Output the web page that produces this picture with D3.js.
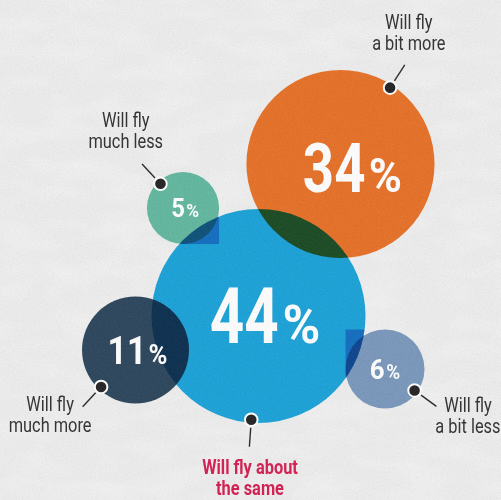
<!DOCTYPE html>
<html>
<head>
<meta charset="utf-8">
<script src="https://cdn.jsdelivr.net/npm/d3@7"></script>
<style>
  html, body { margin: 0; padding: 0; background: #f4f4f4; }
  svg { display: block; }
  text { font-family: Roboto, "Noto Sans", sans-serif; }
</style>
</head>
<body>
<div id="chart"></div>
<script>
// Survey answers: how much people expect to fly
const categories = ["Will fly much more", "Will fly a bit more", "Will fly about the same", "Will fly a bit less", "Will fly much less"];
const values = [11, 34, 44, 6, 5];
const labelLines = [["Will fly", "much more"], ["Will fly", "a bit more"], ["Will fly about", "the same"], ["Will fly", "a bit less"], ["Will fly", "much less"]];
const colors = ["#253f56", "#e66c1f", "#139fd7", "#7594b9", "#5cb59b"];
const labelColors = ["#2a2a2a", "#2a2a2a", "#d3164b", "#2a2a2a", "#2a2a2a"];

// Layout (percent of the canvas): bubble centres, callout angle, caption anchor
const centers = [[27.05, 70.0], [67.96, 32.8], [51.6, 63.2], [76.85, 73.8], [36.53, 41.6]];
const calloutAngles = [133, -57, 94, 36, -133];
const captionAnchors = [[10.0, 82.1], [81.6, 5.8], [49.9, 94.7], [93.4, 82.4], [25.1, 25.4]];
const valueNudges = [[0.4, 0], [2.4, 0.8], [1.3, 0], [0, 0], [0.4, 0]];
// Bubbles whose frame tints the large bubble underneath
const framed = [false, false, false, true, true];

const W = 501, H = 500;
const x = d3.scaleLinear().domain([0, 100]).range([0, W]);
const y = d3.scaleLinear().domain([0, 100]).range([0, H]);
const r = d3.scaleSqrt().domain([0, d3.max(values)]).range([0, 107]);
// digits are set narrower in the larger bubbles
const squeeze = d3.scaleLinear().domain([36, 107]).range([0.92, 0.78]).clamp(true);

const data = categories.map((c, i) => ({
  cat: c, value: values[i], lines: labelLines[i], color: colors[i], labelColor: labelColors[i],
  cx: x(centers[i][0]), cy: y(centers[i][1]), r: r(values[i]),
  angle: calloutAngles[i] * Math.PI / 180,
  lx: x(captionAnchors[i][0]), ly: y(captionAnchors[i][1]),
  nx: x(valueNudges[i][0]), ny: y(valueNudges[i][1]),
  framed: framed[i]
}));

const svg = d3.select("#chart").append("svg").attr("width", W).attr("height", H);
const defs = svg.append("defs");

// paper grain
const f = defs.append("filter").attr("id", "grain").attr("x", 0).attr("y", 0).attr("width", 1).attr("height", 1);
f.append("feTurbulence").attr("type", "fractalNoise").attr("baseFrequency", "0.75").attr("numOctaves", 3).attr("seed", 4);
f.append("feColorMatrix").attr("type", "matrix")
  .attr("values", "1.3 0 0 0 -0.15  1.3 0 0 0 -0.15  1.3 0 0 0 -0.15  0 0 0 0 0.08");

const f2 = defs.append("filter").attr("id", "blotch").attr("x", 0).attr("y", 0).attr("width", 1).attr("height", 1);
f2.append("feTurbulence").attr("type", "fractalNoise").attr("baseFrequency", "0.02 0.05").attr("numOctaves", 2).attr("seed", 9);
f2.append("feColorMatrix").attr("type", "matrix")
  .attr("values", "0 0 0 0 1  0 0 0 0 1  0 0 0 0 1  1.2 0 0 0 -0.45");

svg.append("rect").attr("width", W).attr("height", H).attr("fill", "#ededed");
svg.append("rect").attr("width", W).attr("height", H).attr("filter", "url(#blotch)").attr("opacity", 0.5);

// Bubbles, overlapping areas multiply together
const big = data.reduce((a, b) => (b.value > a.value ? b : a));
defs.append("clipPath").attr("id", "bigClip").append("circle")
  .attr("cx", big.cx).attr("cy", big.cy).attr("r", big.r);

const bubbles = svg.append("g").style("isolation", "isolate");
bubbles.selectAll("circle.bubble").data(data).join("circle")
  .attr("class", "bubble")
  .attr("cx", d => d.cx).attr("cy", d => d.cy).attr("r", d => d.r)
  .attr("fill", d => d.color)
  .style("mix-blend-mode", "multiply");

// square frames of the small bubbles, visible only where they cross the large one
bubbles.append("g").attr("clip-path", "url(#bigClip)")
  .style("mix-blend-mode", "multiply")
  .selectAll("rect").data(data.filter(d => d.framed)).join("rect")
  .attr("x", d => d.cx - d.r).attr("y", d => d.cy - d.r)
  .attr("width", d => 2 * d.r).attr("height", d => 2 * d.r)
  .attr("fill", "#6fa8e2");

// Value labels: condensed digits followed by a smaller percent sign
const vals = svg.append("g");
data.forEach(d => {
  const sq = squeeze(d.r);
  const fs = d.r * 0.72, ps = fs * 0.7, gap = fs * 0.05;
  const base = d.cy + fs * 0.355 + d.ny;
  const g = vals.append("g");
  const num = g.append("text").attr("font-size", fs).attr("font-weight", 700).attr("fill", "#fff").text(d.value);
  const pct = g.append("text").attr("font-size", ps).attr("font-weight", 700).attr("fill", "#fff").text("%");
  const wn = num.node().getComputedTextLength() * sq;
  const wp = pct.node().getComputedTextLength() * 0.95;
  const left = d.cx + d.nx - (wn + gap + wp) / 2;
  num.attr("transform", `translate(${left},${base}) scale(${sq},1)`);
  pct.attr("transform", `translate(${left + wn + gap},${base}) scale(0.95,1)`);
});

// Callout dots and leader lines
const call = svg.append("g");
data.forEach(d => {
  const px = d.cx + (d.r - 3) * Math.cos(d.angle), py = d.cy + (d.r - 3) * Math.sin(d.angle);
  call.append("line")
    .attr("x1", px + 8 * Math.cos(d.angle)).attr("y1", py + 8 * Math.sin(d.angle))
    .attr("x2", px + 27 * Math.cos(d.angle)).attr("y2", py + 27 * Math.sin(d.angle))
    .attr("stroke", "#222").attr("stroke-width", 1.4);
  call.append("circle").attr("cx", px).attr("cy", py).attr("r", 6.3)
    .attr("fill", "#1c1c1e").attr("stroke", "#fff").attr("stroke-width", 2);
});

// Captions
const caps = svg.append("g");
data.forEach(d => {
  const t = caps.append("text")
    .attr("transform", `translate(${d.lx},${d.ly}) scale(0.82,1)`)
    .attr("text-anchor", "middle")
    .attr("font-size", 20)
    .attr("font-weight", d === big ? 700 : 400)
    .attr("fill", d.labelColor);
  d.lines.forEach((s, i) => t.append("tspan").attr("x", 0).attr("dy", i === 0 ? 0 : 21.5).text(s));
});

// grain over everything
svg.append("rect").attr("width", W).attr("height", H).attr("filter", "url(#grain)").style("pointer-events", "none");
</script>
</body>
</html>
